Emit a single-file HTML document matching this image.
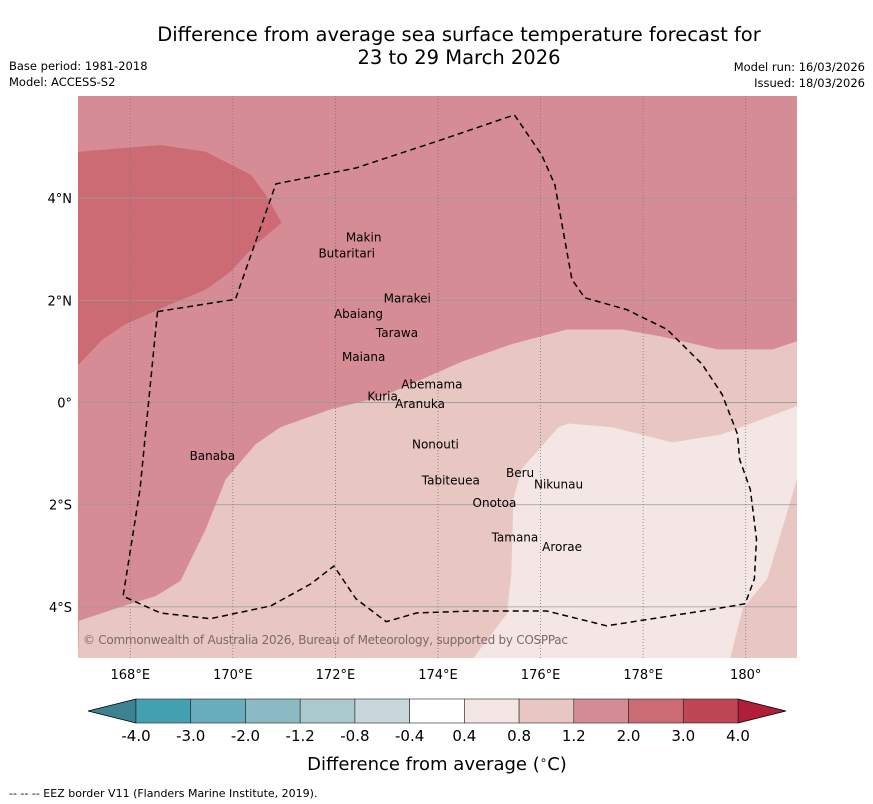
<!DOCTYPE html>
<html><head><meta charset="utf-8"><style>
body{margin:0;background:#fff;width:873px;height:804px;overflow:hidden;font-family:"DejaVu Sans","Liberation Sans",sans-serif}
svg{display:block}
</style></head><body>
<svg id="chart" width="873" height="804" viewBox="0 0 873 804" xmlns="http://www.w3.org/2000/svg">
<text x="459" y="41" text-anchor="middle" font-size="19.5">Difference from average sea surface temperature forecast for</text>
<text x="459" y="64" text-anchor="middle" font-size="19.5">23 to 29 March 2026</text>
<text x="9" y="70" font-size="11.5">Base period: 1981-2018</text>
<text x="9" y="86" font-size="11.5">Model: ACCESS-S2</text>
<text x="865" y="71" text-anchor="end" font-size="11.5">Model run: 16/03/2026</text>
<text x="865" y="87" text-anchor="end" font-size="11.5">Issued: 18/03/2026</text>
<g id="map"></g>
<g id="axes"></g>
<g id="cbar"></g>
<text x="437" y="770" text-anchor="middle" font-size="18">Difference from average (<tspan font-size="12" dy="-6">∘</tspan><tspan dy="6">C)</tspan></text>
<text x="9" y="797" font-size="11">--  --  -- EEZ border V11 (Flanders Marine Institute, 2019).</text>
</svg>
<script>
const lonTicks=[168,170,172,174,176,178,180];
const lonLabels=["168°E","170°E","172°E","174°E","176°E","178°E","180°"];
const latTicks=[4,2,0,-2,-4];
const latLabels=["4°N","2°N","0°","2°S","4°S"];
const zone23Lon=[167.0,168.59,169.47,170.35,170.64,170.95,170.44,169.95,169.47,168.68,167.9,167.45,167.0];
const zone23Lat=[4.91,5.04,4.91,4.46,4.07,3.52,3.09,2.56,2.21,1.88,1.53,1.23,0.75];
const zone08Lon=[167.0,168.0,168.49,168.98,169.47,169.86,170.44,170.93,171.91,172.89,173.67,174.46,175.43,176.51,177.59,178.37,179.45,180.52,181.0];
const zone08Lat=[-4.27,-3.94,-3.79,-3.49,-2.48,-1.5,-0.82,-0.48,-0.13,0.11,0.45,0.8,1.14,1.43,1.43,1.29,1.04,1.04,1.2];
const zone04Lon=[174.69,175.34,175.43,175.47,175.63,176.35,176.55,177.39,178.57,179.54,181.0,181.0,180.42,179.94,179.7];
const zone04Lat=[-5.0,-4.14,-3.36,-1.89,-1.3,-0.48,-0.41,-0.48,-0.78,-0.62,-0.07,-1.5,-3.45,-4.04,-5.0];
const eezLon=[168.53,170.05,170.84,172.4,174.06,175.49,176.02,176.28,176.61,176.86,177.68,178.47,179.15,179.54,179.84,179.88,180.09,180.21,180.17,179.99,179.15,177.29,176.12,174.65,173.58,172.99,172.4,171.97,171.52,170.74,169.56,168.59,167.86,168.19,168.53];
const eezLat=[1.78,2.02,4.28,4.59,5.14,5.63,4.85,4.26,2.41,2.05,1.82,1.43,0.75,0.16,-0.62,-1.11,-1.7,-2.67,-3.45,-3.94,-4.08,-4.37,-4.08,-4.08,-4.12,-4.29,-3.84,-3.2,-3.55,-3.98,-4.23,-4.12,-3.79,-1.7,1.78];
const islandNames=["Makin","Butaritari","Marakei","Abaiang","Tarawa","Maiana","Abemama","Kuria","Aranuka","Nonouti","Banaba","Tabiteuea","Beru","Nikunau","Onotoa","Tamana","Arorae"];
const islandLon=[172.55,172.22,173.4,172.45,173.2,172.55,173.88,172.92,173.65,173.95,169.6,174.25,175.6,176.35,175.1,175.5,176.42];
const islandLat=[3.23,2.92,2.04,1.73,1.36,0.89,0.35,0.12,-0.03,-0.82,-1.05,-1.53,-1.38,-1.6,-1.97,-2.64,-2.83];
const cbLevels=["-4.0","-3.0","-2.0","-1.2","-0.8","-0.4","0.4","0.8","1.2","2.0","3.0","4.0"];
const cbColors=["#43a0b0","#67adbb","#8bb9c4","#a9c9cc","#c8d7db","#ffffff","#f4e6e4","#e8c6c2","#d68c94","#cc6b74","#be4655"];

const X0=79,X1=797,Y0=96,Y1=658,LON0=167,LON1=181,LAT0=6,LAT1=-5;
const xs=l=>X0+(l-LON0)/(LON1-LON0)*(X1-X0);
const ys=l=>Y0+(LAT0-l)/(LAT0-LAT1)*(Y1-Y0);
const NS="http://www.w3.org/2000/svg";
function mk(tag,attrs,parent){const e=document.createElementNS(NS,tag);for(const k in attrs)e.setAttribute(k,attrs[k]);parent.appendChild(e);return e;}
const map=document.getElementById('map'),axes=document.getElementById('axes'),cb=document.getElementById('cbar');
const pts=(lo,la)=>lo.map((v,i)=>xs(v).toFixed(1)+','+ys(la[i]).toFixed(1)).join(' ');

let bg=mk('rect',{x:78,y:Y0,width:X1-78,height:Y1-Y0,fill:'#d68c94'},map);


let p08=mk('polygon',{points:pts(zone08Lon,zone08Lat)+' '+xs(181).toFixed(1)+','+ys(-5)+' '+(78)+','+ys(-5),fill:'#e8c6c2'},map);


let p04=mk('polygon',{points:pts(zone04Lon,zone04Lat),fill:'#f4e6e4'},map);


let p23=mk('polygon',{points:'78,'+ys(4.91)+' '+pts(zone23Lon,zone23Lat)+' 78,'+ys(0.75),fill:'#cc6b74'},map);



latTicks.forEach((t,i)=>{
  let g=mk('line',{x1:78,x2:X1,y1:ys(t),y2:ys(t),stroke:'#999',"stroke-width":0.8},map);
  
  
  let tx=mk('text',{x:72,y:ys(t)+5,"text-anchor":'end',"font-size":13},axes);
  tx.textContent=latLabels[i];
  
  
});
lonTicks.forEach((t,i)=>{
  let g=mk('line',{x1:xs(t),x2:xs(t),y1:Y0,y2:Y1,stroke:'#777',"stroke-width":0.8,"stroke-dasharray":'1,2'},map);
  
  
  let tx=mk('text',{x:xs(t),y:679,"text-anchor":'middle',"font-size":13},axes);
  tx.textContent=lonLabels[i];
  
  
});
let eez=mk('polyline',{points:pts(eezLon,eezLat),fill:'none',stroke:'#000',"stroke-width":1.5,"stroke-dasharray":'6,4'},map);


islandNames.forEach((n,i)=>{
  let tx=mk('text',{x:xs(islandLon[i]),y:ys(islandLat[i])+4,"text-anchor":'middle',"font-size":12},map);
  tx.textContent=n;
  
  
});
let cp=mk('text',{x:83,y:644,"font-size":12,fill:'#7a6a6a',textLength:485},map);
cp.textContent='© Commonwealth of Australia 2026, Bureau of Meteorology, supported by COSPPac';



const CB0=136,CB1=738,CBY=699,CBH=24,seg=(CB1-CB0)/cbColors.length;
let la=mk('polygon',{points:`${CB0},${CBY} ${CB0},${CBY+CBH} 88,${CBY+CBH/2}`,fill:'#3c8290',stroke:'#000',"stroke-width":0.8},cb);


let ra=mk('polygon',{points:`${CB1},${CBY} ${CB1},${CBY+CBH} 786,${CBY+CBH/2}`,fill:'#b01e3a',stroke:'#000',"stroke-width":0.8},cb);


cbColors.forEach((c,i)=>{
  let r=mk('rect',{x:CB0+i*seg,y:CBY,width:seg,height:CBH,fill:c,stroke:'#222',"stroke-width":0.6},cb);
  
  
});
cbLevels.forEach((l,i)=>{
  let tx=mk('text',{x:CB0+i*seg,y:741,"text-anchor":'middle',"font-size":15},cb);
  tx.textContent=l;
  
  
});
</script>
</body></html>
